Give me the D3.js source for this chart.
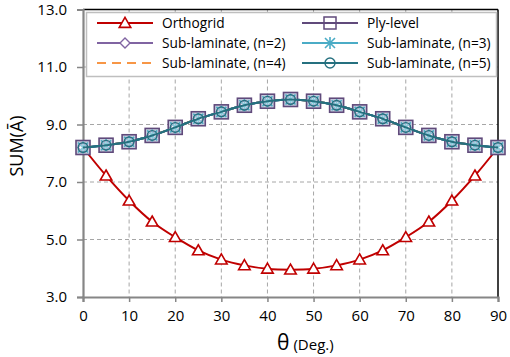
<!DOCTYPE html>
<html>
<head>
<meta charset="utf-8">
<script src="https://cdn.jsdelivr.net/npm/d3@7"></script>
<style>
  html, body { margin: 0; padding: 0; background: #fff; }
  svg { display: block; }
  text { font-family: "Open Sans", Lato, sans-serif; fill: #000; }
</style>
</head>
<body>
<svg id="chart" width="510" height="357"></svg>
<script>
// Fiber angle theta (degrees)
const theta = [0, 5, 10, 15, 20, 25, 30, 35, 40, 45, 50, 55, 60, 65, 70, 75, 80, 85, 90];

// SUM(A-bar) for each design
const orthogrid = [8.20, 7.22, 6.35, 5.62, 5.08, 4.62, 4.30, 4.10, 3.98, 3.95, 3.98, 4.10, 4.30, 4.62, 5.08, 5.62, 6.35, 7.22, 8.20];
const plyLevel  = [8.20, 8.28, 8.40, 8.62, 8.90, 9.20, 9.44, 9.67, 9.81, 9.87, 9.81, 9.67, 9.44, 9.20, 8.90, 8.62, 8.40, 8.28, 8.20];
const subN2     = [8.20, 8.28, 8.40, 8.62, 8.90, 9.20, 9.44, 9.67, 9.81, 9.87, 9.81, 9.67, 9.44, 9.20, 8.90, 8.62, 8.40, 8.28, 8.20];
const subN3     = [8.20, 8.28, 8.40, 8.62, 8.90, 9.20, 9.44, 9.67, 9.81, 9.87, 9.81, 9.67, 9.44, 9.20, 8.90, 8.62, 8.40, 8.28, 8.20];
const subN4     = [8.20, 8.28, 8.40, 8.62, 8.90, 9.20, 9.44, 9.67, 9.81, 9.87, 9.81, 9.67, 9.44, 9.20, 8.90, 8.62, 8.40, 8.28, 8.20];
const subN5     = [8.20, 8.28, 8.40, 8.62, 8.90, 9.20, 9.44, 9.67, 9.81, 9.87, 9.81, 9.67, 9.44, 9.20, 8.90, 8.62, 8.40, 8.28, 8.20];

// Axis ticks
const xTicks = [0, 10, 20, 30, 40, 50, 60, 70, 80, 90];
const yTicks = [3.0, 5.0, 7.0, 9.0, 11.0, 13.0];

const seriesNames = ["Orthogrid", "Ply-level", "Sub-laminate, (n=2)", "Sub-laminate, (n=3)", "Sub-laminate, (n=4)", "Sub-laminate, (n=5)"];

const series = [
  { name: seriesNames[0], values: orthogrid, color: "#C00000", marker: "triangle", dash: null },
  { name: seriesNames[1], values: plyLevel,  color: "#604A7B", marker: "square",   dash: null },
  { name: seriesNames[2], values: subN2,     color: "#8064A2", marker: "diamond",  dash: null },
  { name: seriesNames[3], values: subN3,     color: "#4BACC6", marker: "star",     dash: null },
  { name: seriesNames[4], values: subN4,     color: "#F79646", marker: null,       dash: "9,6" },
  { name: seriesNames[5], values: subN5,     color: "#25707F", marker: "circle",   dash: null }
];

const svg = d3.select("#chart");
const m = { left: 83, right: 12, top: 9.5, bottom: 60 };
const W = 510, H = 357;

const x = d3.scaleLinear().domain([0, 90]).range([m.left, W - m.right]);
const y = d3.scaleLinear().domain([3, 13]).range([H - m.bottom, m.top]);

// Grid lines
const grid = svg.append("g");
grid.selectAll("line.gx").data(xTicks.slice(1, -1)).join("line")
  .attr("x1", d => x(d)).attr("x2", d => x(d))
  .attr("y1", y(13)).attr("y2", y(3))
  .attr("stroke", "#A6A6A6").attr("stroke-width", 1).attr("stroke-dasharray", "4,3");
grid.selectAll("line.gy").data(yTicks.slice(1, -1)).join("line")
  .attr("x1", x(0)).attr("x2", x(90))
  .attr("y1", d => y(d)).attr("y2", d => y(d))
  .attr("stroke", "#A6A6A6").attr("stroke-width", 1).attr("stroke-dasharray", "4,3");

// Top and right frame
svg.append("line").attr("x1", x(0)).attr("x2", x(90)).attr("y1", y(13)).attr("y2", y(13))
  .attr("stroke", "#000").attr("stroke-width", 1.5);
svg.append("line").attr("x1", x(90)).attr("x2", x(90)).attr("y1", y(13)).attr("y2", y(3))
  .attr("stroke", "#000").attr("stroke-width", 1.5);

// Axes
const xAxis = svg.append("g").attr("transform", `translate(0,${y(3)})`)
  .call(d3.axisBottom(x).tickValues(xTicks).tickFormat(d3.format("d")).tickSize(5).tickPadding(8));
const yAxis = svg.append("g").attr("transform", `translate(${x(0)},0)`)
  .call(d3.axisLeft(y).tickValues(yTicks).tickFormat(d3.format(".1f")).tickSize(6).tickPadding(10));
[xAxis, yAxis].forEach(a => {
  a.select(".domain").attr("stroke", "#868686").attr("stroke-width", 2.2);
  a.selectAll(".tick line").attr("stroke", "#868686").attr("stroke-width", 1.5);
  a.selectAll(".tick text").attr("font-family", "'Open Sans', Lato, sans-serif")
    .attr("font-size", 15).attr("fill", "#000");
});

// Axis titles
svg.append("text")
  .attr("transform", `translate(23,146) rotate(-90)`)
  .attr("text-anchor", "middle").attr("font-size", 18)
  .text("SUM(\u0100)");
const xt = svg.append("text").attr("x", 277).attr("y", 350).attr("text-anchor", "start");
xt.append("tspan").attr("font-size", 21).text("\u03B8");
xt.append("tspan").attr("font-size", 15).attr("dx", 4).text("(Deg.)");

// Marker drawing
function drawMarker(g, type, color) {
  if (type === "triangle") {
    g.append("path").attr("d", d3.symbol(d3.symbolTriangle2, 95)())
      .attr("transform", "translate(0,1)")
      .attr("fill", "#fff").attr("stroke", color).attr("stroke-width", 1.6);
  } else if (type === "square") {
    g.append("rect").attr("x", -7).attr("y", -7).attr("width", 14).attr("height", 14)
      .attr("fill", "#C9CFE0").attr("stroke", color).attr("stroke-width", 1.6);
  } else if (type === "diamond") {
    g.append("path").attr("d", "M0,-5L5,0L0,5L-5,0Z")
      .attr("fill", "#fff").attr("stroke", color).attr("stroke-width", 1.4);
  } else if (type === "star") {
    g.append("path").attr("d", "M-5,-5L5,5M-5,5L5,-5M0,-6L0,6")
      .attr("stroke", color).attr("stroke-width", 1.6);
  } else if (type === "circle") {
    g.append("circle").attr("r", 4.8)
      .attr("fill", "#fff").attr("fill-opacity", 0.35).attr("stroke", color).attr("stroke-width", 1.4);
  }
}

const line = d3.line().x(d => x(d[0])).y(d => y(d[1])).curve(d3.curveCatmullRom.alpha(0.5));

// Lines for every series, then markers on top
series.forEach(s => {
  const pts = theta.map((t, i) => [t, s.values[i]]);
  svg.append("path").datum(pts).attr("d", line)
    .attr("fill", "none").attr("stroke", s.color).attr("stroke-width", 2)
    .attr("stroke-dasharray", s.dash);
});
series.forEach(s => {
  if (!s.marker) return;
  theta.forEach((t, i) => {
    const g = svg.append("g").attr("transform", `translate(${x(t)},${y(s.values[i])})`);
    drawMarker(g, s.marker, s.color);
  });
});
// Final line on top of markers (last series)
{
  const s = series[5];
  svg.append("path").datum(theta.map((t, i) => [t, s.values[i]])).attr("d", line)
    .attr("fill", "none").attr("stroke", s.color).attr("stroke-width", 2);
}

// Legend
const lg = svg.append("g");
lg.append("rect").attr("x", 86.5).attr("y", 12.5).attr("width", 410).attr("height", 64)
  .attr("fill", "#fff").attr("stroke", "#BFBFBF").attr("stroke-width", 1.5);
const cols = [97, 302];
const rows = [23, 43, 63];
series.forEach((s, i) => {
  const cx = cols[i % 2], cy = rows[Math.floor(i / 2)];
  lg.append("line").attr("x1", cx).attr("x2", cx + 56).attr("y1", cy).attr("y2", cy)
    .attr("stroke", s.color).attr("stroke-width", 2).attr("stroke-dasharray", s.dash);
  if (s.marker) {
    const g = lg.append("g").attr("transform", `translate(${cx + 28},${cy})`);
    if (s.marker === "square") {
      g.append("rect").attr("x", -6).attr("y", -6).attr("width", 12).attr("height", 12)
        .attr("fill", "none").attr("stroke", s.color).attr("stroke-width", 1.5);
    } else if (s.marker === "circle") {
      g.append("circle").attr("r", 5).attr("fill", "none").attr("stroke", s.color).attr("stroke-width", 1.4);
    } else {
      drawMarker(g, s.marker, s.color);
    }
  }
  lg.append("text").attr("x", cx + 65).attr("y", cy + 5).attr("font-size", 13.7).text(s.name);
});
</script>
</body>
</html>
